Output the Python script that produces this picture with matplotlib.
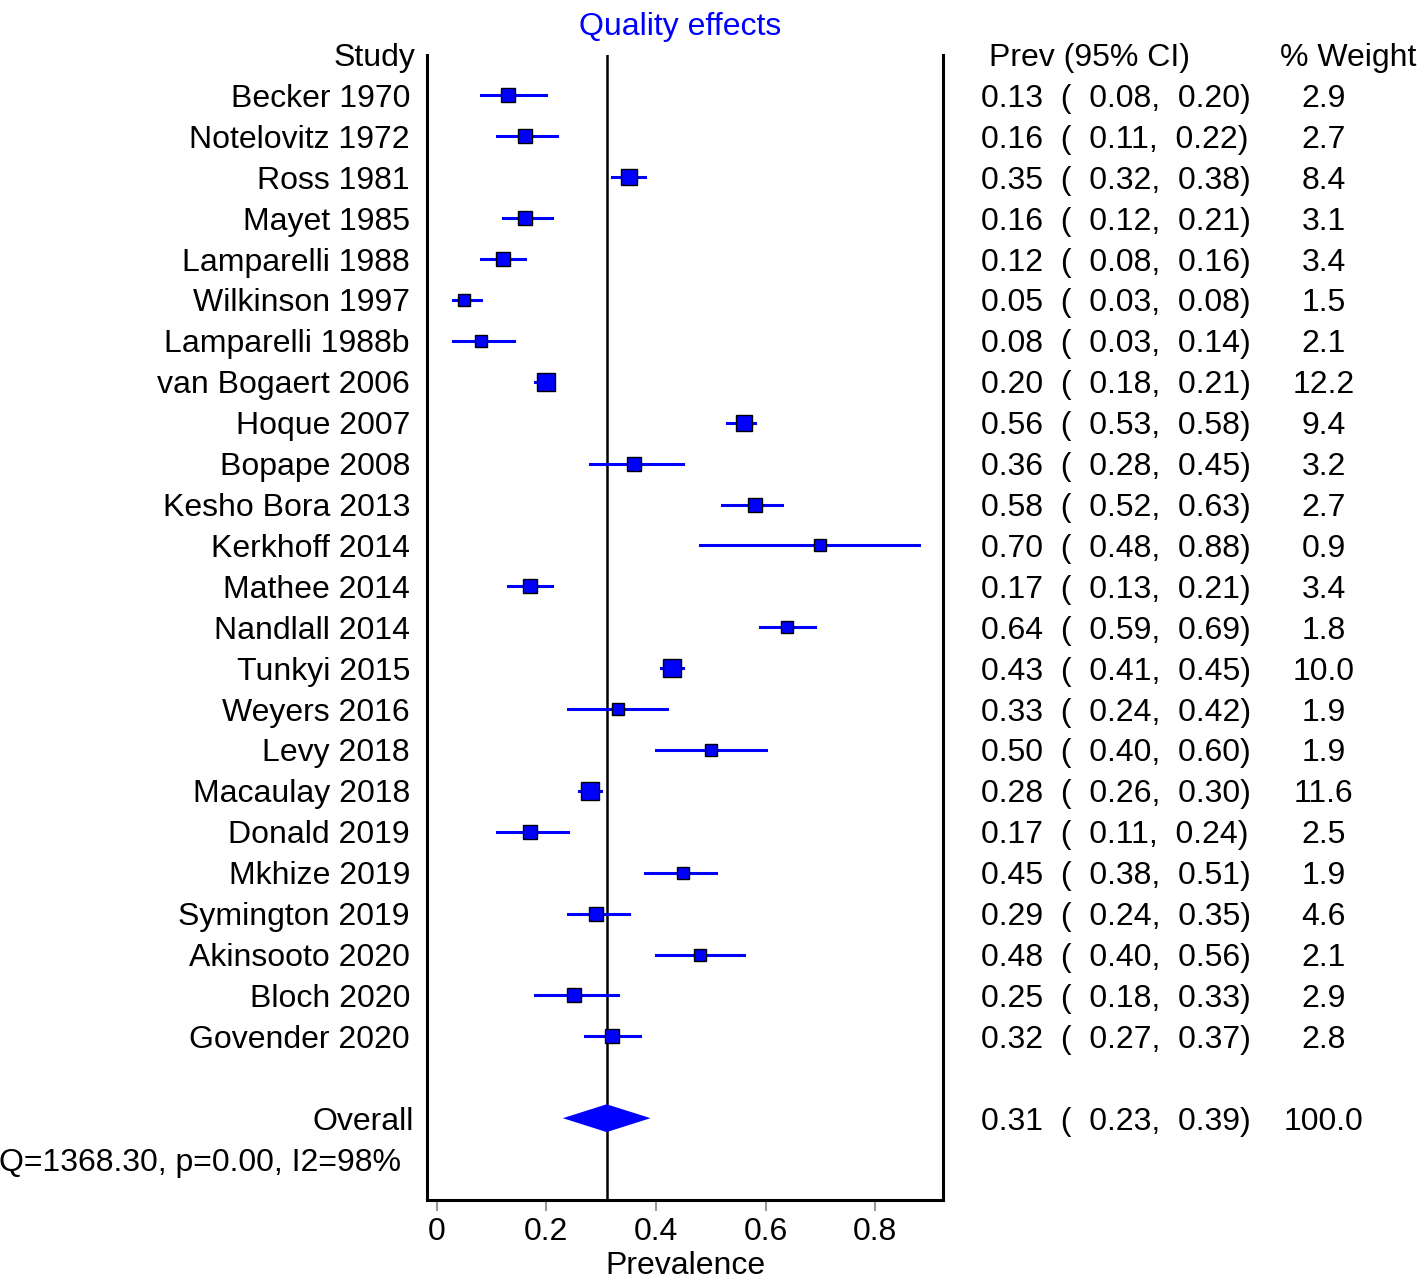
import numpy as np
import matplotlib.pyplot as plt

plt.rcParams['font.family'] = ['Liberation Sans', 'DejaVu Sans']

# studies and their estimates
studies = ['Becker 1970', 'Notelovitz 1972', 'Ross 1981', 'Mayet 1985', 'Lamparelli 1988',
           'Wilkinson 1997', 'Lamparelli 1988b', 'van Bogaert 2006', 'Hoque 2007',
           'Bopape 2008', 'Kesho Bora 2013', 'Kerkhoff 2014', 'Mathee 2014',
           'Nandlall 2014', 'Tunkyi 2015', 'Weyers 2016', 'Levy 2018', 'Macaulay 2018',
           'Donald 2019', 'Mkhize 2019', 'Symington 2019', 'Akinsooto 2020',
           'Bloch 2020', 'Govender 2020']
prev = [0.13, 0.16, 0.35, 0.16, 0.12, 0.05, 0.08, 0.20, 0.56, 0.36, 0.58, 0.70,
        0.17, 0.64, 0.43, 0.33, 0.50, 0.28, 0.17, 0.45, 0.29, 0.48, 0.25, 0.32]
low = [0.08, 0.11, 0.32, 0.12, 0.08, 0.03, 0.03, 0.18, 0.53, 0.28, 0.52, 0.48,
       0.13, 0.59, 0.41, 0.24, 0.40, 0.26, 0.11, 0.38, 0.24, 0.40, 0.18, 0.27]
high = [0.20, 0.22, 0.38, 0.21, 0.16, 0.08, 0.14, 0.21, 0.58, 0.45, 0.63, 0.88,
        0.21, 0.69, 0.45, 0.42, 0.60, 0.30, 0.24, 0.51, 0.35, 0.56, 0.33, 0.37]
weight = [2.9, 2.7, 8.4, 3.1, 3.4, 1.5, 2.1, 12.2, 9.4, 3.2, 2.7, 0.9,
          3.4, 1.8, 10.0, 1.9, 1.9, 11.6, 2.5, 1.9, 4.6, 2.1, 2.9, 2.8]
overall = [0.31, 0.23, 0.39]
het_text = 'Q=1368.30, p=0.00, I2=98%'

blue = '#0000ff'
fs = 23

fig = plt.figure(figsize=(14.24, 12.84), dpi=100)
ax = fig.add_axes([427/1424, 84/1284, 516/1424, 1145.5/1284])

ax.axvline(overall[0], color='black', lw=1.8, zorder=1)

for i in range(len(studies)):
    ax.plot([low[i], high[i]], [i, i], color=blue, lw=2.2, zorder=2)
    side = 9 + 2.6 * np.sqrt(weight[i])
    ax.plot(prev[i], i, marker='s', markersize=side * 0.72, color=blue,
            markeredgecolor='black', markeredgewidth=1.0, zorder=3)

yo = len(studies) + 1
dh = 0.34
ax.fill([overall[1], overall[0], overall[2], overall[0]],
        [yo, yo - dh, yo, yo + dh], color=blue, zorder=3, lw=0)

ax.set_xlim(-0.018, 0.924)
ax.set_ylim(27.0, -1.0)
ax.set_yticks([])
ax.set_xticks([0, 0.2, 0.4, 0.6, 0.8])
ax.set_xticklabels(['0', '0.2', '0.4', '0.6', '0.8'], fontsize=fs)
ax.tick_params(axis='x', length=8, width=1.5, color='#999999', pad=4)
ax.spines['top'].set_visible(False)
for s in ['left', 'right', 'bottom']:
    ax.spines[s].set_linewidth(2.2)
ax.set_xlabel('Prevalence', fontsize=fs, labelpad=3)

tr = ax.get_yaxis_transform()
xl = -0.033
xr = 1.0736
xw = 1.738
va = 'center_baseline'

ax.text(-0.022, -1, 'Study', ha='right', va=va, fontsize=fs, transform=tr)
ax.text(1.09, -1, 'Prev (95% CI)', ha='left', va=va, fontsize=fs, transform=tr)
ax.text(1.785, -1, '% Weight', ha='center', va=va, fontsize=fs, transform=tr)

for i in range(len(studies)):
    ax.text(xl, i, studies[i], ha='right', va=va, fontsize=fs, transform=tr)
    ax.text(xr, i, '%.2f  (  %.2f,  %.2f)' % (prev[i], low[i], high[i]),
            ha='left', va=va, fontsize=fs, transform=tr)
    ax.text(xw, i, '%.1f' % weight[i], ha='center', va=va, fontsize=fs, transform=tr)

ax.text(-0.025, yo, 'Overall', ha='right', va=va, fontsize=fs, transform=tr)
ax.text(xr, yo, '%.2f  (  %.2f,  %.2f)' % tuple(overall),
        ha='left', va=va, fontsize=fs, transform=tr)
ax.text(xw, yo, '100.0', ha='center', va=va, fontsize=fs, transform=tr)
ax.text(-0.05, yo + 1, het_text, ha='right', va=va, fontsize=fs, transform=tr)

fig.text(680/1424, 1 - 27/1284, 'Quality effects', ha='center', va='center',
         fontsize=fs, color=blue)

fig.savefig('out.png', dpi=100)
